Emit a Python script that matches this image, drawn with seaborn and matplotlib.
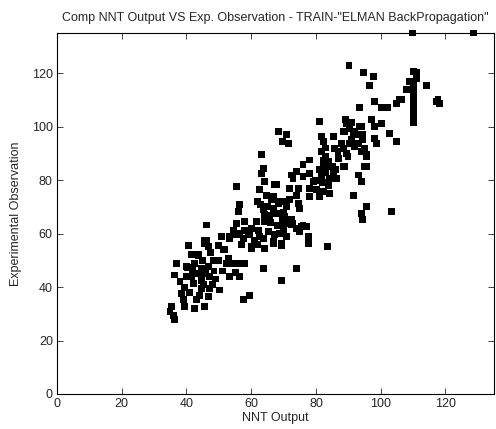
import matplotlib
matplotlib.use("Agg")
import matplotlib.pyplot as plt
import seaborn as sns
import pandas as pd

nnt_output = [
    35.4, 34.9, 36.4, 36.9, 36.4, 38.5, 39.0, 39.5, 40.5, 40.0, 40.0, 41.6, 42.1, 42.6, 43.1, 42.6,
    43.6, 43.6, 44.7, 45.2, 44.7, 45.7, 45.7, 46.7, 46.2, 46.7, 47.2, 47.2, 46.7, 48.2, 49.8, 50.3,
    50.8, 51.9, 52.4, 53.4, 53.4, 54.4, 55.5, 56.5, 56.5, 57.5, 58.0, 57.5, 59.6, 59.0, 61.1, 60.1,
    62.7, 43.6, 46.2, 40.2, 36.0, 41.0, 44.0, 48.5, 45.0, 42.0, 38.0, 49.0, 51.0, 55.0, 53.0, 50.0,
    47.5, 41.5, 44.5, 46.0, 48.0, 39.5,
    63.2, 63.7, 63.2, 64.2, 55.5, 67.8, 62.7, 64.7, 66.3, 68.3, 72.4, 74.0, 71.9, 70.9, 56.5, 56.0,
    63.7, 65.7, 64.2, 69.8, 72.4, 74.0, 55.5, 58.0, 54.4, 56.5, 61.6, 62.2, 59.6, 65.2, 68.8, 53.4,
    63.7, 66.8, 69.4, 60.1, 64.2, 45.7, 51.3, 65.0, 67.0, 66.0, 68.0, 70.0, 62.0, 64.0, 60.0, 58.0,
    57.0, 62.0, 70.0, 71.0, 63.0,
    81.2, 89.4, 90.4, 93.5, 68.3, 70.9, 71.4, 69.8, 81.7, 82.2, 85.3, 88.9, 91.5, 94.5, 87.9, 90.4,
    93.0, 85.8, 86.8, 89.4, 94.0, 95.6, 81.7, 78.1, 88.9, 95.1, 82.2, 82.2, 83.7, 81.2, 85.3, 81.7,
    84.3, 86.3, 78.1, 76.0, 72.9, 79.1, 93.0, 94.0, 67.3, 74.5, 78.1, 80.1, 82.2, 84.3, 74.0, 78.1,
    81.2, 66.8, 68.8, 71.9, 74.5, 70.9, 66.8, 91.5, 95.6, 94.0, 94.5, 75.0, 70.4, 67.8, 69.8, 72.9,
    75.5, 77.1, 83.0, 84.0, 85.0, 83.0, 84.0, 86.0, 87.0, 83.0, 82.0, 80.0, 76.0,
    76.0, 75.0, 77.6, 77.6, 83.7, 67.3, 66.8, 69.4, 63.7, 74.0, 69.4, 70.4, 72.4, 103.4,
    90.2, 94.8, 97.8, 96.4, 110.0, 111.2, 114.1, 107.9, 110.0, 110.0, 110.0, 110.0, 110.0, 110.0,
    110.0, 110.0, 105.9, 104.8, 98.1, 100.2, 102.2, 93.5, 117.2, 89.2, 90.9, 88.6, 94.0, 97.1,
    98.1, 100.2, 102.6, 104.8, 98.1, 98.6, 92.0, 93.5, 90.9, 94.5, 92.0, 95.0, 88.6, 89.9, 95.6,
    88.6, 95.6, 109.8, 128.7, 106.4, 117.7, 118.2, 109.0, 111.0,
]
exp_observation = [
    32.6, 30.8, 27.7, 48.9, 44.5, 37.7, 35.2, 32.6, 55.7, 47.6, 43.9, 43.9, 41.4, 48.9, 35.2, 32.0,
    52.0, 45.1, 42.6, 40.8, 39.5, 32.6, 56.3, 55.1, 57.6, 47.6, 43.9, 39.5, 36.3, 50.1, 50.1, 38.9,
    58.8, 53.9, 48.9, 58.8, 43.9, 48.9, 59.5, 48.9, 43.9, 58.2, 48.9, 35.2, 37.0, 59.5, 57.6, 54.5,
    58.8, 51.6, 63.2, 47.2, 29.5, 38.0, 37.0, 46.0, 50.0, 46.5, 42.0, 43.0, 46.0, 45.5, 50.5, 55.5,
    53.0, 52.0, 47.0, 45.0, 41.0, 40.0,
    89.4, 84.4, 82.5, 79.4, 77.5, 78.2, 76.3, 74.4, 72.6, 71.3, 81.9, 83.2, 76.9, 71.9, 70.7, 68.2,
    68.8, 66.9, 64.4, 65.1, 65.1, 62.0, 63.8, 64.4, 61.3, 60.1, 64.4, 61.3, 59.5, 60.7, 60.1, 58.2,
    58.2, 56.9, 56.3, 55.1, 54.5, 57.6, 53.9, 70.0, 68.0, 64.0, 63.0, 68.0, 72.0, 67.0, 62.0, 61.0,
    56.0, 56.0, 61.0, 59.0, 71.0,
    101.8, 101.2, 99.4, 100.0, 98.1, 96.9, 93.8, 94.4, 96.2, 94.4, 96.2, 98.1, 96.9, 96.9, 93.8, 93.8,
    93.8, 91.9, 90.6, 90.0, 90.6, 89.4, 90.6, 87.5, 85.0, 85.0, 87.5, 85.0, 85.0, 83.8, 82.5, 81.3,
    80.6, 80.6, 82.5, 81.3, 80.6, 79.4, 81.9, 79.4, 78.2, 76.9, 76.9, 76.3, 75.7, 75.1, 74.4, 73.8,
    73.8, 73.8, 71.9, 72.6, 71.3, 70.1, 69.4, 74.4, 70.1, 67.5, 65.1, 69.4, 66.3, 67.5, 64.4, 63.8,
    62.6, 62.6, 89.0, 87.0, 85.0, 83.0, 78.0, 84.0, 88.0, 92.0, 79.0, 80.0, 86.0,
    63.2, 60.7, 58.8, 56.3, 55.1, 59.5, 56.3, 55.7, 47.0, 47.0, 42.6, 63.8, 63.2, 68.1,
    122.7, 120.2, 118.9, 115.2, 120.5, 120.2, 115.2, 113.7, 116.2, 114.0, 112.0, 110.0, 108.0, 106.0,
    104.3, 101.5, 110.0, 108.5, 109.3, 107.2, 107.2, 107.2, 109.3, 102.7, 101.5, 98.1, 100.0, 102.5,
    100.0, 101.0, 97.5, 94.4, 95.6, 93.8, 98.1, 96.9, 95.0, 95.0, 92.5, 91.9, 91.9, 88.8, 88.8,
    85.0, 85.0, 135.0, 135.0, 110.0, 110.0, 108.7, 117.0, 118.0,
]

x_ticks = [0, 20, 40, 60, 80, 100, 120]
y_ticks = [0, 20, 40, 60, 80, 100, 120]

df = pd.DataFrame({"NNT Output": nnt_output, "Experimental Observation": exp_observation})

sns.set_style("ticks")
plt.rcParams["font.family"] = ["Liberation Sans", "DejaVu Sans"]

fig = plt.figure(figsize=(4.96, 4.29), dpi=100)
ax = fig.add_axes([57 / 496, 35 / 429, 437 / 496, 361 / 429])

sns.scatterplot(data=df, x="NNT Output", y="Experimental Observation", ax=ax,
                marker="s", s=25, color="black", edgecolor="none", linewidth=0,
                clip_on=False, legend=False)

ax.set_xlim(0, 135)
ax.set_ylim(0, 135)
ax.set_xticks(x_ticks)
ax.set_yticks(y_ticks)
ax.tick_params(direction="in", top=True, right=True, length=4, width=0.6,
               labelsize=9, pad=3)
for sp in ax.spines.values():
    sp.set_linewidth(0.8)
    sp.set_color("black")

ax.set_xlabel("NNT Output", fontsize=9, labelpad=1)
ax.set_ylabel("Experimental Observation", fontsize=9, labelpad=7)
ax.set_title('Comp NNT Output VS Exp. Observation - TRAIN-"ELMAN BackPropagation"',
             fontsize=9, pad=9)

fig.savefig("out.png", dpi=100)
